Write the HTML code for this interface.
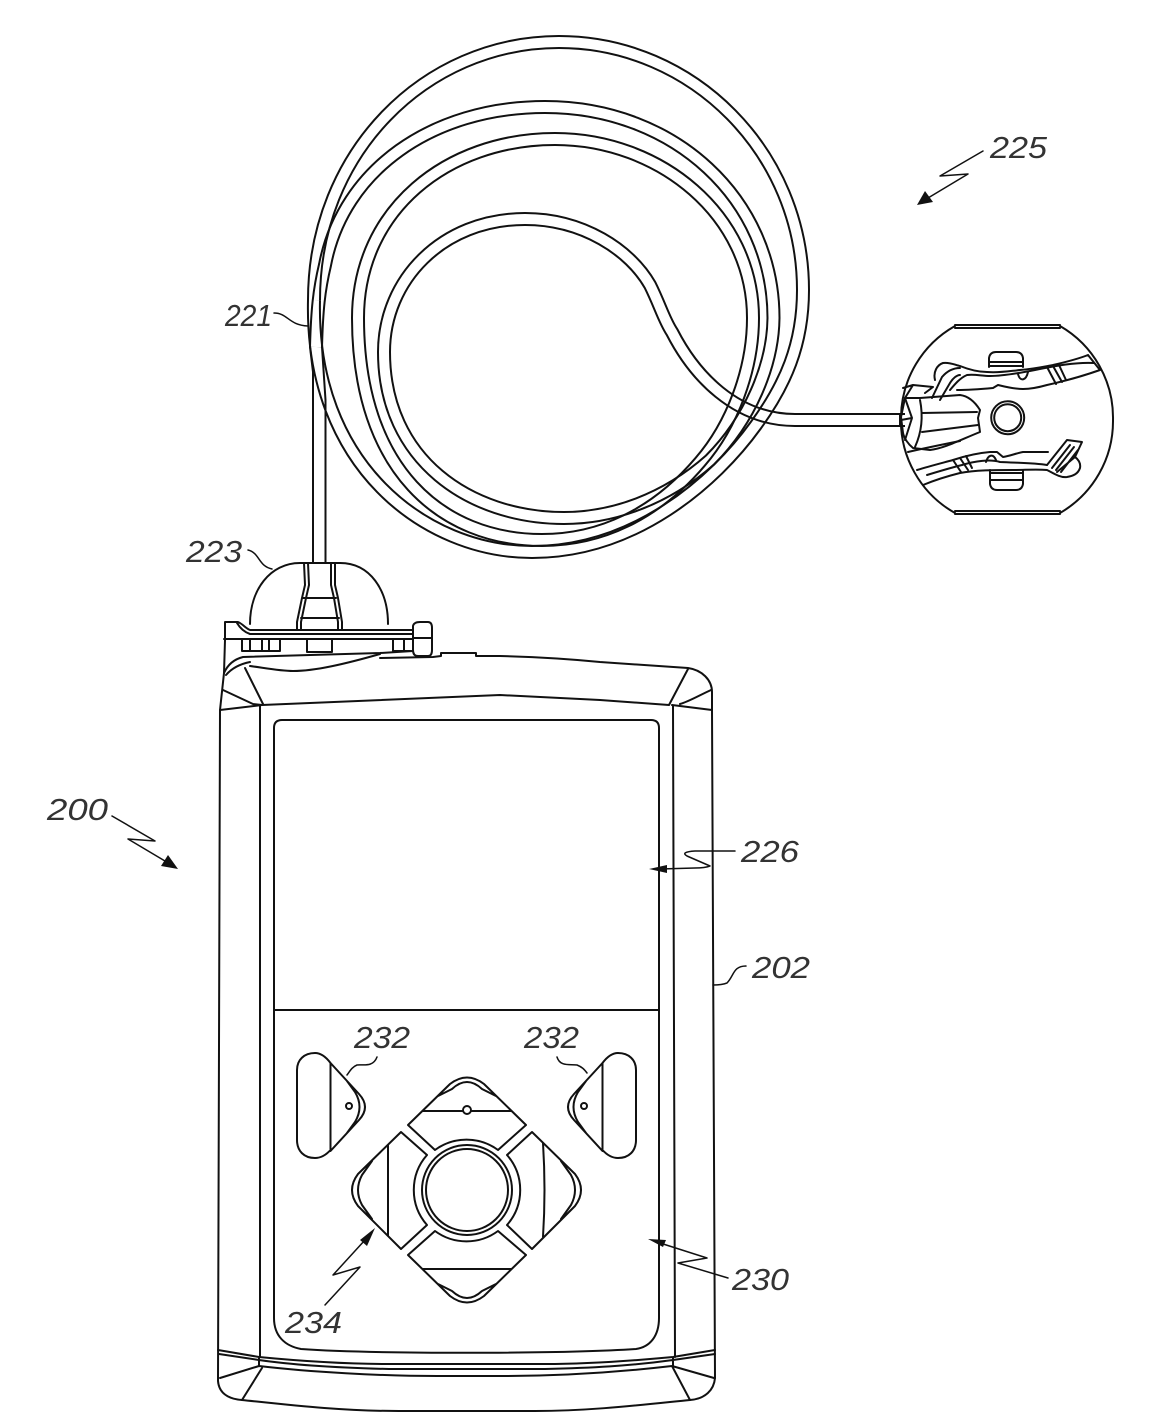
<!DOCTYPE html>
<html><head><meta charset="utf-8"><style>
html,body{margin:0;padding:0;background:#fff}
svg{display:block}
text{font-family:"Liberation Sans",sans-serif;font-size:31px;font-style:italic;fill:#333}
.l{fill:none;stroke:#111;stroke-width:2;stroke-linejoin:round;stroke-linecap:round}
.t{fill:none;stroke:#111;stroke-width:1.5;stroke-linejoin:round;stroke-linecap:round}
.a{fill:#111;stroke:none}
</style></head><body>
<svg width="1150" height="1419" viewBox="0 0 1150 1419" xmlns="http://www.w3.org/2000/svg">
<defs>
<path id="p1" d="M314,300 C314,153 425,42 559,42 C693,42 803,153 803,290 C803,345 785,385 756,425 C715,482 635,552 532,552 C425,552 310,465 314,300"/>
<path id="p2" d="M316,347 C317,310 319,290 325,265 C343,170 432,107 545,107 C675,107 773.500,200 773.500,318 C773,365 750,420 710,460 C665,500 612,518 564,518 C470,518 384,460 384,352"/>
<path id="p3" d="M358,318 C358,210 447,139 555,139 C660,139 753,215 753,318 C753,370 732,425 700,462 C655,515 600,540 542,540 C442,540 358,470 358,318"/>
<path id="p4" d="M384,352 C384,280 442,219 525,219 C583,219 630,250 650,285 C660,305 664,320 672,332 C694,375 735,420 795,420 L905,420"/>
<mask id="m1" maskUnits="userSpaceOnUse" x="0" y="0" width="1150" height="1419"><rect width="1150" height="1419" fill="#fff"/><use href="#p1" fill="none" stroke="#000" stroke-width="10"/></mask>
<mask id="m2" maskUnits="userSpaceOnUse" x="0" y="0" width="1150" height="1419"><rect width="1150" height="1419" fill="#fff"/><use href="#p2" fill="none" stroke="#000" stroke-width="10"/></mask>
<mask id="m3" maskUnits="userSpaceOnUse" x="0" y="0" width="1150" height="1419"><rect width="1150" height="1419" fill="#fff"/><use href="#p3" fill="none" stroke="#000" stroke-width="10"/></mask>
<mask id="m4" maskUnits="userSpaceOnUse" x="0" y="0" width="1150" height="1419"><rect width="1150" height="1419" fill="#fff"/><use href="#p4" fill="none" stroke="#000" stroke-width="10"/></mask>
</defs>
<rect width="1150" height="1419" fill="#fff"/>

<!-- tubing -->
<g fill="none" stroke="#111" stroke-width="14">
<use href="#p1" mask="url(#m1)"/>
<use href="#p2" mask="url(#m2)"/>
<use href="#p3" mask="url(#m3)"/>
<use href="#p4" mask="url(#m4)"/>
</g>
<path class="l" d="M310,347 L313,372 V563 M322,347 L325.500,400 V563"/>

<!-- reservoir connector -->
<path class="l" d="M304,563 L305,585 L302,598 L297,622 V629 M308,563 L309,585 L306,598 L301,622 V629 M331,563 L331,585 L334,598 L338,622 V629 M335,563 L335,585 L338,598 L342,622 V629 M302,598 H336 M301,618 H339"/>
<path class="l" d="M250,624 C250,590 270,563 300,563 H340 C370,563 388,590 388,624"/>
<path class="l" d="M225,622 H238 C243,624 245,628 250,630 H413 M237,623 C240,628 244,632 250,634 H413 M224,639 H413 M225,622 V640 L224,673 M413,630 V640"/>
<path class="l" d="M413,626 Q414,622 420,622 H428 Q432,622 432,628 V650 Q432,656 428,656 H418 Q413,656 413,650 V626 M413,638 H432"/>
<path class="l" d="M242,639 V651 H280 V639 M250,639 V651 M262,639 V651 M269,640 V650 M307,639 V652 H332 V639 M393,639 V651 H411 M404,640 V651"/>
<path class="l" d="M224,673 C228,664 235,659 243,657 L380,653 L413,651"/>
<path class="l" d="M226,675 C232,668 240,664 250,662 M250,666 C265,668 280,671 293,671 C315,671 345,664 380,654"/>
<path class="l" d="M380,658 L433,657 L441,656 V653 H476 V656 L500,656 C540,657 570,659 600,662 L688,668 C702,670 712,680 712,692 V710 L715,1378"/>
<path class="l" d="M224,673 L220,710 L218,1381 C219,1393 228,1399 242,1400 C290,1405 340,1411 399,1411 H535 C590,1411 640,1405 690,1400 C705,1399 714,1390 715,1378"/>
<path class="l" d="M245,668 L263,704 M223,690 L253,704 L262,705 M220,710 L262,705 M262,705 L500,695 L600,700 L669,705 M688,669 L669,705 M711,690 C700,695 688,702 680,704 M672,705 L712,710"/>
<path class="l" d="M260,706 V1357 M673,706 L675,1357"/>

<!-- screen -->
<path class="l" d="M282,720 H651 Q659,720 659,728 V1318 C659,1336 650,1347 636,1349 C560,1354 370,1354 301,1349 C285,1346 274,1336 274,1318 V728 Q274,720 282,720 Z M274,1010 H659"/>

<!-- bottom bands -->
<path class="l" d="M218,1350 L259,1357 C300,1361 345,1364 389,1364 H545 C590,1364 630,1361 673,1357 L715,1350 M219,1354 L259,1360 C300,1366 345,1368 389,1369 H545 C590,1368 630,1366 673,1360 L715,1354 M259,1357 V1366 M673,1357 V1366 M259,1366 C310,1372 380,1376 437,1376 H500 C560,1376 620,1372 672,1366 M259,1366 L220,1378 M262,1368 L242,1400 M672,1366 L714,1378 M672,1366 L690,1400"/>

<!-- side buttons -->
<path class="l" d="M330.500,1063 C326,1057 321,1053 315,1053 C304,1053 297,1060 297,1070 V1140 C297,1151 304,1158 315,1158 C321,1158 326,1155 330.500,1150 V1063 M330.500,1063 L359,1094 Q371,1107 359,1120 L330.500,1151 M347,1081 L355,1092 Q364,1107 355,1122 L347,1133"/>
<circle class="l" cx="349" cy="1106" r="3"/>
<path class="l" d="M602.500,1063 C607,1057 612,1053 618,1053 C629,1053 636,1060 636,1070 V1140 C636,1151 629,1158 618,1158 C612,1158 607,1155 602.500,1150 V1063 M602.500,1063 L574,1094 Q562,1107 574,1120 L602.500,1151 M586,1081 L578,1092 Q569,1107 578,1122 L586,1133"/>
<circle class="l" cx="584" cy="1106" r="3"/>

<!-- d-pad -->
<circle class="l" cx="467" cy="1190" r="45"/>
<circle class="l" cx="467" cy="1190" r="41"/>
<path class="l" d="M408,1125 L450,1084 Q467,1071 484,1084 L526,1125 L498,1150 A53,53 0 0 0 435,1150 Z M438,1096 L452,1089 Q467,1075 482,1089 L496,1096 M423,1111 H511"/>
<circle cx="467" cy="1110" r="4" fill="#fff" stroke="#111" stroke-width="1.9"/>
<path class="l" d="M408,1255 L450,1296 Q467,1309 484,1296 L526,1255 L498,1231 A53,53 0 0 1 435,1231 Z M438,1284 L452,1291 Q467,1305 482,1291 L496,1284 M423,1269 H511"/>
<path class="l" d="M401,1132 L358,1174 Q346,1190 358,1206 L401,1249 L427,1225 A53,53 0 0 1 427,1155 Z M372,1161 L362,1175 Q354,1190 362,1205 L372,1219 M388,1145 V1236"/>
<path class="l" d="M532,1132 L575,1174 Q587,1190 575,1206 L532,1249 L507,1225 A53,53 0 0 0 507,1155 Z M561,1161 L571,1175 Q579,1190 571,1205 L561,1219 M543,1143 Q546,1190 543,1237"/>

<!-- infusion set -->
<path class="l" d="M955,326 A106,106 0 0 0 901,417 A106,106 0 0 0 955,513 M1060,326 A106,106 0 0 1 1113,420 A106,106 0 0 1 1060,513"/>
<path class="l" d="M955,325 H1060 M955,328 H1060 M955,511 H1060 M955,514 H1060"/>
<circle class="l" cx="1007.700" cy="417.700" r="16.500"/>
<circle class="l" cx="1007.700" cy="417.700" r="13.500"/>
<path class="l" d="M901,417 L905,398 H920 L960,395 C968,396 975,402 980,410 L978,418 L980,432 C960,440 945,448 930,450 L913,448 C908,444 904,438 903,433 L901,417"/>
<path class="l" d="M920,400 Q925,425 915,447 M922,413 L977,412 M922,432 L978,425 M901,420 L912,418 L905,398 M912,418 L905,440 M900,414 V426"/>
<path class="l" d="M935,380 C933,372 937,365 943,363 C950,362 955,365 960,366 C970,370 978,372 987,372 C1000,373 1010,371 1020,370 C1033,369 1042,367 1053,365 C1066,362 1078,359 1088,355 M950,390 C955,384 960,378 967,375 C975,374 982,376 990,376 C1003,376 1020,373 1035,370 C1055,366 1075,362 1094,363 M957,390 C970,390 982,389 993,388 L998,385 C1006,387 1015,389 1023,389 C1032,389 1040,387 1047,385 C1065,381 1083,376 1100,370 M1088,355 L1100,370"/>
<path class="l" d="M932,398 L942,377 C948,370 954,368 960,368 M940,400 L950,383 C953,378 957,375 960,375 M903,388 L913,385 L933,387 L925,393 M913,385 L905,398"/>
<path class="l" d="M1047,367 L1056,384 M1053,366 L1062,382 M1059,365 L1066,380 M1018,374 C1020,382 1026,381 1028,372"/>
<path class="l" d="M989,367 V358 Q990,352 996,352 H1016 Q1022,352 1023,358 V367 M989,362 H1023 M989,366 H1023"/>
<path class="l" d="M990,470 V484 Q991,490 997,490 H1016 Q1022,490 1023,484 V470 M990,480 H1023 M990,473 H1023"/>
<path class="l" d="M917,470 C930,466 942,463 953,460 C965,456 978,453 990,452 L997,452 L1003,457 C1010,456 1017,453 1023,452 H1048 M908,452 C925,448 945,444 960,441 M923,485 C935,480 948,476 960,473 C975,470 995,470 1013,470 C1025,470 1037,469 1047,470 C1053,473 1060,478 1067,477 C1073,476 1078,474 1080,468 C1081,463 1078,459 1075,457 M927,475 C940,471 950,468 962,465 C975,461 990,459 1000,462 C1020,463 1035,463 1047,465"/>
<path class="l" d="M1047,465 L1067,440 L1082,442 L1075,457 L1057,472 M1052,468 L1070,445 M1056,470 L1074,447 M1061,472 L1078,450"/>
<path class="l" d="M953,460 L961,472 M960,458 L968,470 M966,456 L972,468 M986,462 C988,455 993,453 996,460"/>

<!-- leaders -->
<path class="t" d="M274,313 C288,313 288,325 308,326 M248,550 C260,553 258,566 272,569 M746,966 C733,966 734,976 727,983 Q722,985 713,985 M377,1057 C373,1068 362,1064 357,1065 C352,1067 350,1071 347,1075 M557,1057 C560,1067 570,1064 577,1065 C582,1067 584,1069 587,1073"/>
<path class="t" d="M112,816 L155,841 L128,839 L170,864"/>
<path class="a" d="M178,869 L161,866 L168,855 Z"/>
<path class="t" d="M983,151 L940,176 L968,174 L928,198"/>
<path class="a" d="M917,205 L925,191 L933,202 Z"/>
<path class="t" d="M735,851 L695,851 Q680,852 687,856 L710,866 Q705,868 695,868 L660,869"/>
<path class="a" d="M649,869 L667,865 V873 Z"/>
<path class="t" d="M728,1278 L678,1263 L707,1258 L660,1243"/>
<path class="a" d="M648,1239 L666,1240 L663,1247 Z"/>
<path class="t" d="M325,1305 L360,1267 L333,1275 L365,1240"/>
<path class="a" d="M375,1228 L360,1240 L367,1246 Z"/>

<!-- labels -->
<text x="990" y="158" textLength="57" lengthAdjust="spacingAndGlyphs">225</text>
<text x="225" y="326" textLength="47" lengthAdjust="spacingAndGlyphs">221</text>
<text x="186" y="562" textLength="56" lengthAdjust="spacingAndGlyphs">223</text>
<text x="47" y="820" textLength="61" lengthAdjust="spacingAndGlyphs">200</text>
<text x="741" y="862" textLength="58" lengthAdjust="spacingAndGlyphs">226</text>
<text x="752" y="978" textLength="58" lengthAdjust="spacingAndGlyphs">202</text>
<text x="354" y="1048" textLength="56" lengthAdjust="spacingAndGlyphs">232</text>
<text x="524" y="1048" textLength="55" lengthAdjust="spacingAndGlyphs">232</text>
<text x="285" y="1333" textLength="57" lengthAdjust="spacingAndGlyphs">234</text>
<text x="732" y="1290" textLength="57" lengthAdjust="spacingAndGlyphs">230</text>
</svg>
</body></html>
